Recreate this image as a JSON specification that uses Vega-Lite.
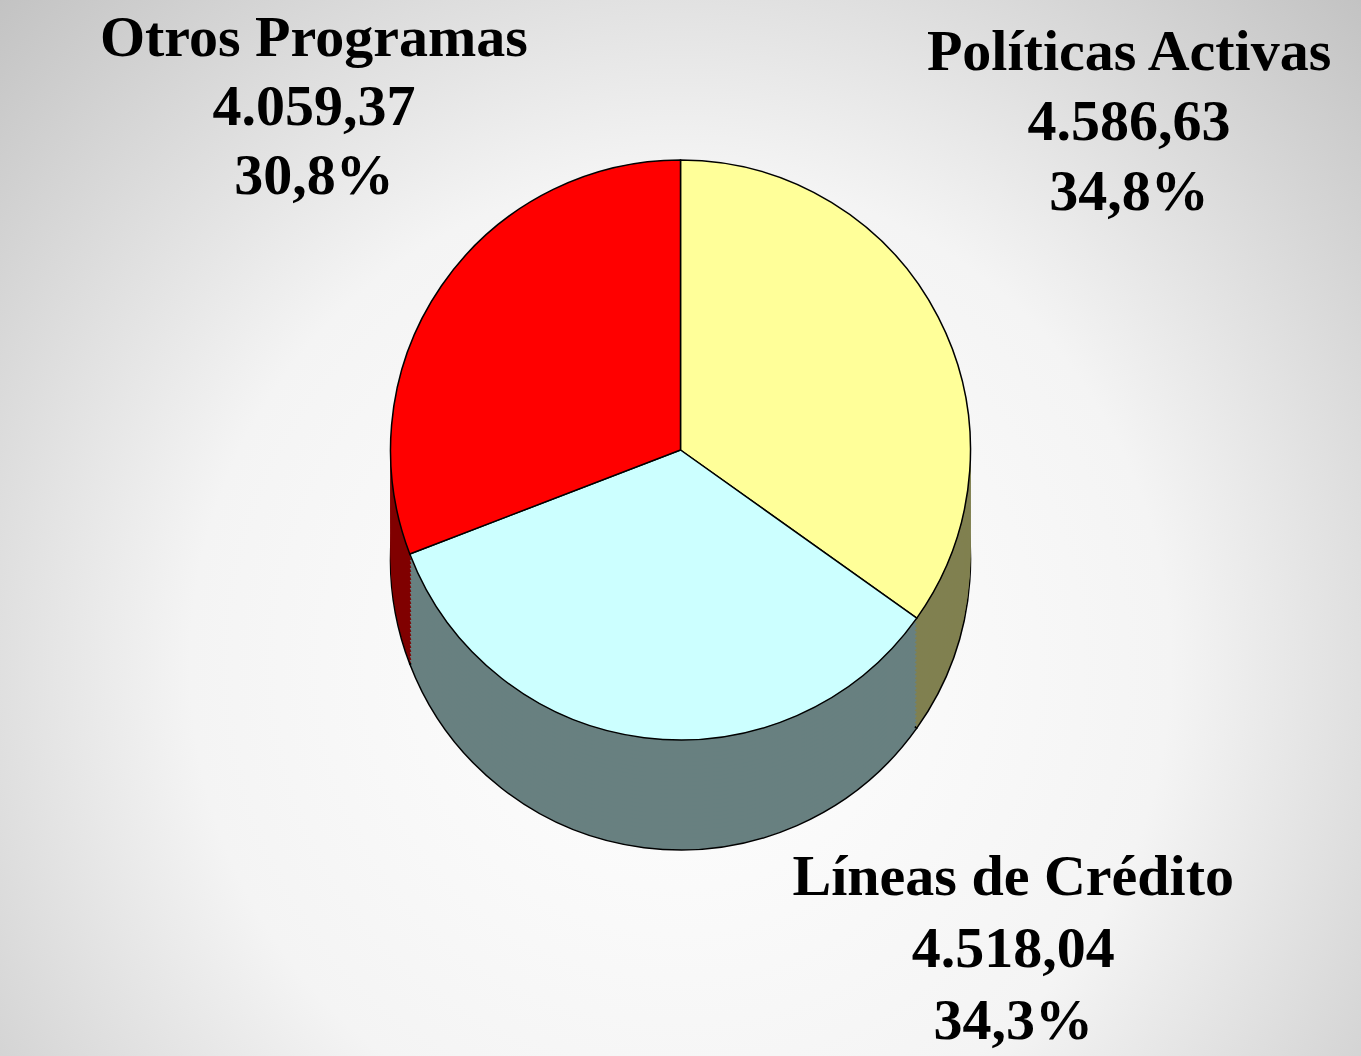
{
  "$schema": "https://vega.github.io/schema/vega-lite/v6.json",
  "autosize": {"type": "none"},
  "width": 1361,
  "height": 1056,
  "padding": 0,
  "background": "#ffffff",
  "config": {"view": {"stroke": null}},
  "data": {
    "values": [
      {"name": "Políticas Activas", "value": 4586.63, "display": "4.586,63", "pct": "34,8%", "orden": 1},
      {"name": "Líneas de Crédito", "value": 4518.04, "display": "4.518,04", "pct": "34,3%", "orden": 2},
      {"name": "Otros Programas", "value": 4059.37, "display": "4.059,37", "pct": "30,8%", "orden": 3}
    ]
  },
  "transform": [
    {"calculate": "datum.name + '\\n' + datum.display + '\\n' + datum.pct", "as": "label"}
  ],
  "layer": [
    {
      "mark": {"type": "rect", "fill": {"gradient": "radial", "x1": 0.5, "y1": 0.6, "x2": 0.5, "y2": 0.6, "r1": 0, "r2": 0.8, "stops": [{"offset": 0, "color": "#ffffff"}, {"offset": 0.45, "color": "#f4f4f4"}, {"offset": 1, "color": "#b4b4b4"}]}},
      "encoding": {}
    },
    {
      "encoding": {
        "theta": {"field": "value", "type": "quantitative", "stack": true},
        "order": {"field": "orden", "type": "quantitative"}
      },
      "layer": [
        {
          "encoding": {
            "color": {"field": "name", "type": "nominal", "legend": null, "scale": {"domain": ["Políticas Activas", "Líneas de Crédito", "Otros Programas"], "range": ["#808050", "#688080", "#800000"]}}
          },
          "layer": [
            {"mark": {"type": "arc", "outerRadius": 290, "yOffset": 32, "stroke": "#000000", "strokeWidth": 1.5}},
            {"mark": {"type": "arc", "outerRadius": 290, "yOffset": 28}},
            {"mark": {"type": "arc", "outerRadius": 290, "yOffset": 24}},
            {"mark": {"type": "arc", "outerRadius": 290, "yOffset": 20}},
            {"mark": {"type": "arc", "outerRadius": 290, "yOffset": 16}},
            {"mark": {"type": "arc", "outerRadius": 290, "yOffset": 12}},
            {"mark": {"type": "arc", "outerRadius": 290, "yOffset": 8}},
            {"mark": {"type": "arc", "outerRadius": 290, "yOffset": 4}},
            {"mark": {"type": "arc", "outerRadius": 290, "yOffset": 0}},
            {"mark": {"type": "arc", "outerRadius": 290, "yOffset": -4}},
            {"mark": {"type": "arc", "outerRadius": 290, "yOffset": -8}},
            {"mark": {"type": "arc", "outerRadius": 290, "yOffset": -12}},
            {"mark": {"type": "arc", "outerRadius": 290, "yOffset": -16}},
            {"mark": {"type": "arc", "outerRadius": 290, "yOffset": -20}},
            {"mark": {"type": "arc", "outerRadius": 290, "yOffset": -24}},
            {"mark": {"type": "arc", "outerRadius": 290, "yOffset": -28}},
            {"mark": {"type": "arc", "outerRadius": 290, "yOffset": -32}},
            {"mark": {"type": "arc", "outerRadius": 290, "yOffset": -36}},
            {"mark": {"type": "arc", "outerRadius": 290, "yOffset": -40}},
            {"mark": {"type": "arc", "outerRadius": 290, "yOffset": -44}},
            {"mark": {"type": "arc", "outerRadius": 290, "yOffset": -48}},
            {"mark": {"type": "arc", "outerRadius": 290, "yOffset": -52}},
            {"mark": {"type": "arc", "outerRadius": 290, "yOffset": -56}},
            {"mark": {"type": "arc", "outerRadius": 290, "yOffset": -60}},
            {"mark": {"type": "arc", "outerRadius": 290, "yOffset": -64}},
            {"mark": {"type": "arc", "outerRadius": 290, "yOffset": -68}},
            {"mark": {"type": "arc", "outerRadius": 290, "yOffset": -72}},
            {"mark": {"type": "arc", "outerRadius": 290, "yOffset": -76}}
          ]
        },
        {
          "mark": {"type": "arc", "outerRadius": 290, "yOffset": -78, "stroke": "#000000", "strokeWidth": 1.5},
          "encoding": {
            "color": {"field": "name", "type": "nominal", "legend": null, "scale": {"domain": ["Políticas Activas", "Líneas de Crédito", "Otros Programas"], "range": ["#FFFF99", "#CCFFFF", "#FF0000"]}}
          }
        },
        {
          "mark": {"type": "text", "radius": 480, "yOffset": -78, "dx": 22, "dy": -177, "font": "Liberation Serif", "fontWeight": "bold", "fontSize": 58, "lineHeight": 70, "lineBreak": "\n", "align": "center", "baseline": "middle", "color": "#000000"},
          "encoding": {
            "text": {"condition": {"test": "datum.name === 'Políticas Activas'", "field": "label"}, "value": ""}
          }
        },
        {
          "mark": {"type": "text", "radius": 480, "yOffset": -78, "dx": 29, "dy": -139, "font": "Liberation Serif", "fontWeight": "bold", "fontSize": 58, "lineHeight": 69, "lineBreak": "\n", "align": "center", "baseline": "middle", "color": "#000000"},
          "encoding": {
            "text": {"condition": {"test": "datum.name === 'Otros Programas'", "field": "label"}, "value": ""}
          }
        },
        {
          "mark": {"type": "text", "radius": 480, "yOffset": -78, "dx": 393, "dy": -48, "font": "Liberation Serif", "fontWeight": "bold", "fontSize": 58, "lineHeight": 72, "lineBreak": "\n", "align": "center", "baseline": "middle", "color": "#000000"},
          "encoding": {
            "text": {"condition": {"test": "datum.name === 'Líneas de Crédito'", "field": "label"}, "value": ""}
          }
        }
      ],
      "resolve": {"scale": {"color": "independent"}}
    }
  ]
}
